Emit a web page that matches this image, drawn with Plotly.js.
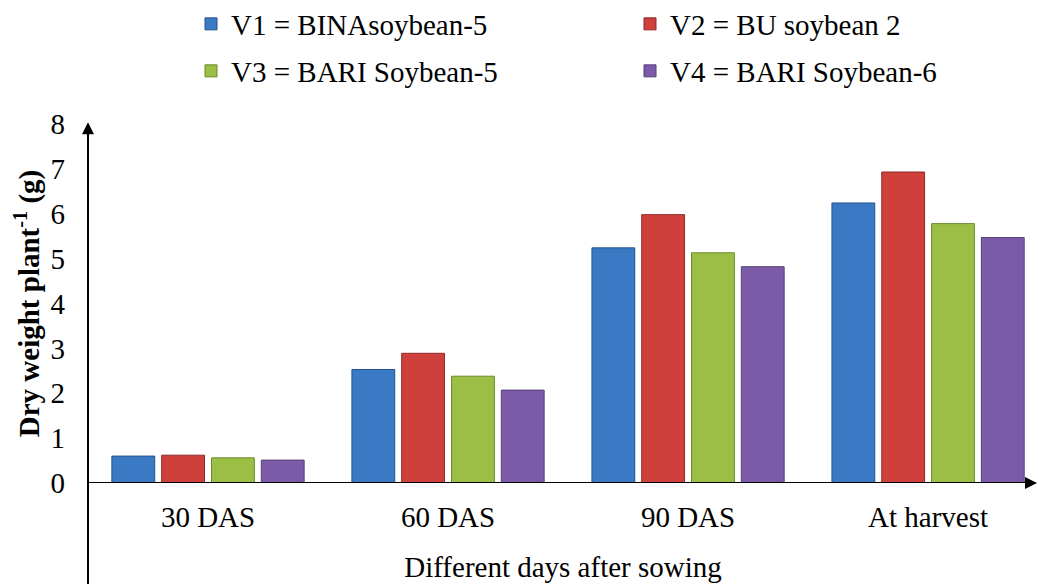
<!DOCTYPE html>
<html>
<head>
<meta charset="utf-8">
<script src="https://cdn.plot.ly/plotly-3.0.1.min.js"></script>
<style>html,body{margin:0;padding:0;background:#fff;}#chart{width:1038px;height:584px;}</style>
</head>
<body>
<div id="chart"></div>
<script>
const categories = ["30 DAS", "60 DAS", "90 DAS", "At harvest"];
const seriesNames = ["V1 = BINAsoybean-5", "V2 = BU soybean 2", "V3 = BARI Soybean-5", "V4 = BARI Soybean-6"];
const v1 = [0.60, 2.53, 5.24, 6.24];
const v2 = [0.62, 2.89, 5.98, 6.93];
const v3 = [0.56, 2.38, 5.13, 5.78];
const v4 = [0.51, 2.07, 4.82, 5.47];
const yTicks = [0, 1, 2, 3, 4, 5, 6, 7, 8];

const colors = ["#3a79c4", "#cf3f3c", "#9bbf44", "#7b5ba7"];
const lineColors = ["#24518a", "#8e2a28", "#6a8a2c", "#55407a"];
const values = [v1, v2, v3, v4];
const legendIds = ["legend2", "legend3", "legend4", "legend5"];

const font = "Liberation Serif";
const FS = 29;

const traces = values.map((vals, i) => ({
  type: "bar",
  x: categories,
  y: vals,
  name: seriesNames[i],
  legend: legendIds[i],
  marker: {color: colors[i], line: {color: lineColors[i], width: 1}},
  hoverinfo: "x+y+name"
}));

function leg(xpx, ypx) {
  return {
    orientation: "h",
    xref: "container", x: xpx / 1038, xanchor: "left",
    yref: "container", y: 1 - ypx / 584, yanchor: "middle",
    font: {family: font, size: FS, color: "#000"},
    bgcolor: "rgba(0,0,0,0)",
    itemwidth: 30
  };
}

const layout = {
  width: 1038,
  height: 584,
  margin: {l: 88, r: 0, t: 124, b: 101},
  paper_bgcolor: "#fff",
  plot_bgcolor: "#fff",
  font: {family: font, size: FS, color: "#000"},
  barmode: "group",
  bargap: 0.17,
  bargroupgap: 0.14,
  xaxis: {
    type: "category",
    range: [-0.5, 3.458],
    showline: false,
    showgrid: false,
    zeroline: false,
    ticks: "",
    ticklabelstandoff: 14,
    tickfont: {family: font, size: FS, color: "#000"},
    title: {text: "Different days after sowing", font: {family: font, size: FS, color: "#000"}, standoff: 24}
  },
  yaxis: {
    range: [0, 8],
    tickvals: yTicks,
    ticktext: yTicks.map(String),
    showgrid: false,
    zeroline: false,
    showline: false,
    ticks: "",
    ticklabelstandoff: 22,
    tickfont: {family: font, size: FS, color: "#000"},
    title: {text: "<b>Dry weight plant<sup>-1</sup> (g)</b>", font: {family: font, size: FS, color: "#000"}, standoff: 2}
  },
  legend2: leg(191, 24),
  legend3: leg(630, 24),
  legend4: leg(191, 71),
  legend5: leg(630, 71),
  shapes: [
    {type: "line", xref: "paper", yref: "paper", x0: 0, x1: 0, y0: 1, y1: -0.29, line: {color: "#000", width: 2}},
    {type: "line", xref: "paper", yref: "y", x0: 0, x1: 0.997, y0: 0, y1: 0, line: {color: "#000", width: 2}}
  ],
  annotations: [
    {xref: "paper", yref: "paper", x: 0, y: 1.005, ax: 0, ay: 14, showarrow: true, arrowhead: 2, arrowsize: 1.2, arrowwidth: 2, arrowcolor: "#000", text: ""},
    {xref: "paper", yref: "y", x: 1.0, y: 0, ax: -14, ay: 0, showarrow: true, arrowhead: 2, arrowsize: 1.2, arrowwidth: 2, arrowcolor: "#000", text: ""}
  ]
};

Plotly.newPlot("chart", traces, layout, {displayModeBar: false, staticPlot: true});
</script>
</body>
</html>
